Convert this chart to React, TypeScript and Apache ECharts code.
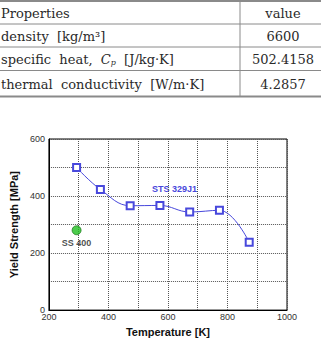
import React, { useEffect, useRef } from "react";
import * as echarts from "echarts";

const stsTemps = [293, 373, 473, 573, 673, 773, 873];
const stsYield = [500, 423, 366, 367, 344, 350, 238];
const ssTemps = [293];
const ssYield = [280];
const xTicks = [200, 400, 600, 800, 1000];
const yTicks = [0, 200, 400, 600];
const tableHeader = ["Properties", "value"];
const tableValues = ["6600", "502.4158", "4.2857"];

const SERIF = "DejaVu Serif";
const SANS = "Liberation Sans";

export default function App() {
  const ref = useRef<HTMLDivElement>(null);
  useEffect(() => {
    if (!ref.current) return;
    const chart = echarts.init(ref.current, null, { renderer: "svg" });
    const gray = "#8a8a8a";
    const rowY = [13.5, 36, 59.5, 84];
    const txt = (x: number, y: number, text: string, align: string = "left", rich?: any) => ({
      type: "text",
      x,
      y,
      style: {
        text,
        fill: "#2a2a2a",
        fontFamily: SERIF,
        fontSize: 13,
        textAlign: align,
        verticalAlign: "middle",
        rich,
      },
    });
    const hline = (y: number, w: number) => ({
      type: "line",
      shape: { x1: 0, y1: y, x2: 321, y2: y },
      style: { stroke: gray, lineWidth: w },
    });
    chart.setOption({
      animation: false,
      backgroundColor: "#fff",
      grid: { left: 40, right: 34, top: 139, bottom: 27, show: true, borderColor: "#000", borderWidth: 1 },
      xAxis: {
        type: "value",
        min: 200,
        max: 1000,
        interval: 100,
        name: "Temperature [K]",
        nameLocation: "middle",
        nameGap: 11,
        nameTextStyle: { fontFamily: SANS, fontWeight: "bold", fontSize: 11, color: "#111", verticalAlign: "top" },
        axisLine: { lineStyle: { color: "#000", width: 1 } },
        axisTick: { show: false },
        axisLabel: {
          fontFamily: SANS,
          fontSize: 9,
          color: "#333",
          margin: 2,
          formatter: (v: number) => (xTicks.includes(v) ? String(v) : ""),
        },
        splitLine: { show: true, lineStyle: { color: "#555", type: [1, 1], width: 1 } },
      },
      yAxis: {
        type: "value",
        min: 0,
        max: 600,
        interval: 100,
        name: "Yield Strength [MPa]",
        nameLocation: "middle",
        nameRotate: 90,
        nameGap: 24,
        nameTextStyle: { fontFamily: SANS, fontWeight: "bold", fontSize: 11, color: "#111" },
        axisLine: { lineStyle: { color: "#000", width: 1 } },
        axisTick: { show: false },
        axisLabel: {
          fontFamily: SANS,
          fontSize: 9,
          color: "#333",
          margin: 4,
          formatter: (v: number) => (yTicks.includes(v) ? String(v) : ""),
        },
        splitLine: { show: true, lineStyle: { color: "#555", type: [1, 1], width: 1 } },
      },
      series: [
        {
          type: "line",
          name: "STS 329J1",
          data: stsTemps.map((t, i) => [t, stsYield[i]]),
          smooth: 0.4,
          symbol: "emptyRect",
          symbolSize: 7,
          lineStyle: { color: "#4848dc", width: 1 },
          itemStyle: { color: "#4848dc", borderColor: "#4848dc", borderWidth: 1 },
        },
        {
          type: "scatter",
          name: "SS 400",
          data: ssTemps.map((t, i) => [t, ssYield[i]]),
          symbol: "circle",
          symbolSize: 9,
          itemStyle: { color: "#1fbf1f", borderColor: "#116611", borderWidth: 0.8 },
          label: {
            show: true,
            position: "bottom",
            distance: 3,
            formatter: "SS 400",
            fontFamily: SANS,
            fontWeight: "bold",
            fontSize: 9,
            color: "#222",
          },
        },
      ],
      graphic: [
        hline(1, 2),
        hline(24, 1),
        hline(47, 1),
        hline(70.5, 1),
        hline(96.5, 2),
        { type: "line", shape: { x1: 240, y1: 0, x2: 240, y2: 97 }, style: { stroke: gray, lineWidth: 1 } },
        txt(1, rowY[0], tableHeader[0]),
        txt(283, rowY[0], tableHeader[1], "center"),
        txt(1, rowY[1], "density  [kg/m³]"),
        txt(283, rowY[1], tableValues[0], "center"),
        txt(1, rowY[2], "specific  heat,  {i|C}{s|p}  [J/kg·K]", "left", {
          i: { fontFamily: SERIF, fontSize: 13, fontStyle: "italic", fill: "#2a2a2a" },
          s: { fontFamily: SERIF, fontSize: 8, fontStyle: "italic", fill: "#2a2a2a", padding: [6, 0, 0, 0] },
        }),
        txt(283, rowY[2], tableValues[1], "center"),
        txt(1, rowY[3], "thermal  conductivity  [W/m·K]"),
        txt(283, rowY[3], tableValues[2], "center"),
        {
          type: "text",
          x: 152,
          y: 189,
          style: {
            text: "STS 329J1",
            fill: "#4848dc",
            fontFamily: SANS,
            fontWeight: "bold",
            fontSize: 9,
            verticalAlign: "middle",
          },
        },
      ],
    });
    return () => chart.dispose();
  }, []);
  return <div ref={ref} style={{ position: "absolute", left: 0, top: 0, width: 321, height: 342 }} />;
}
